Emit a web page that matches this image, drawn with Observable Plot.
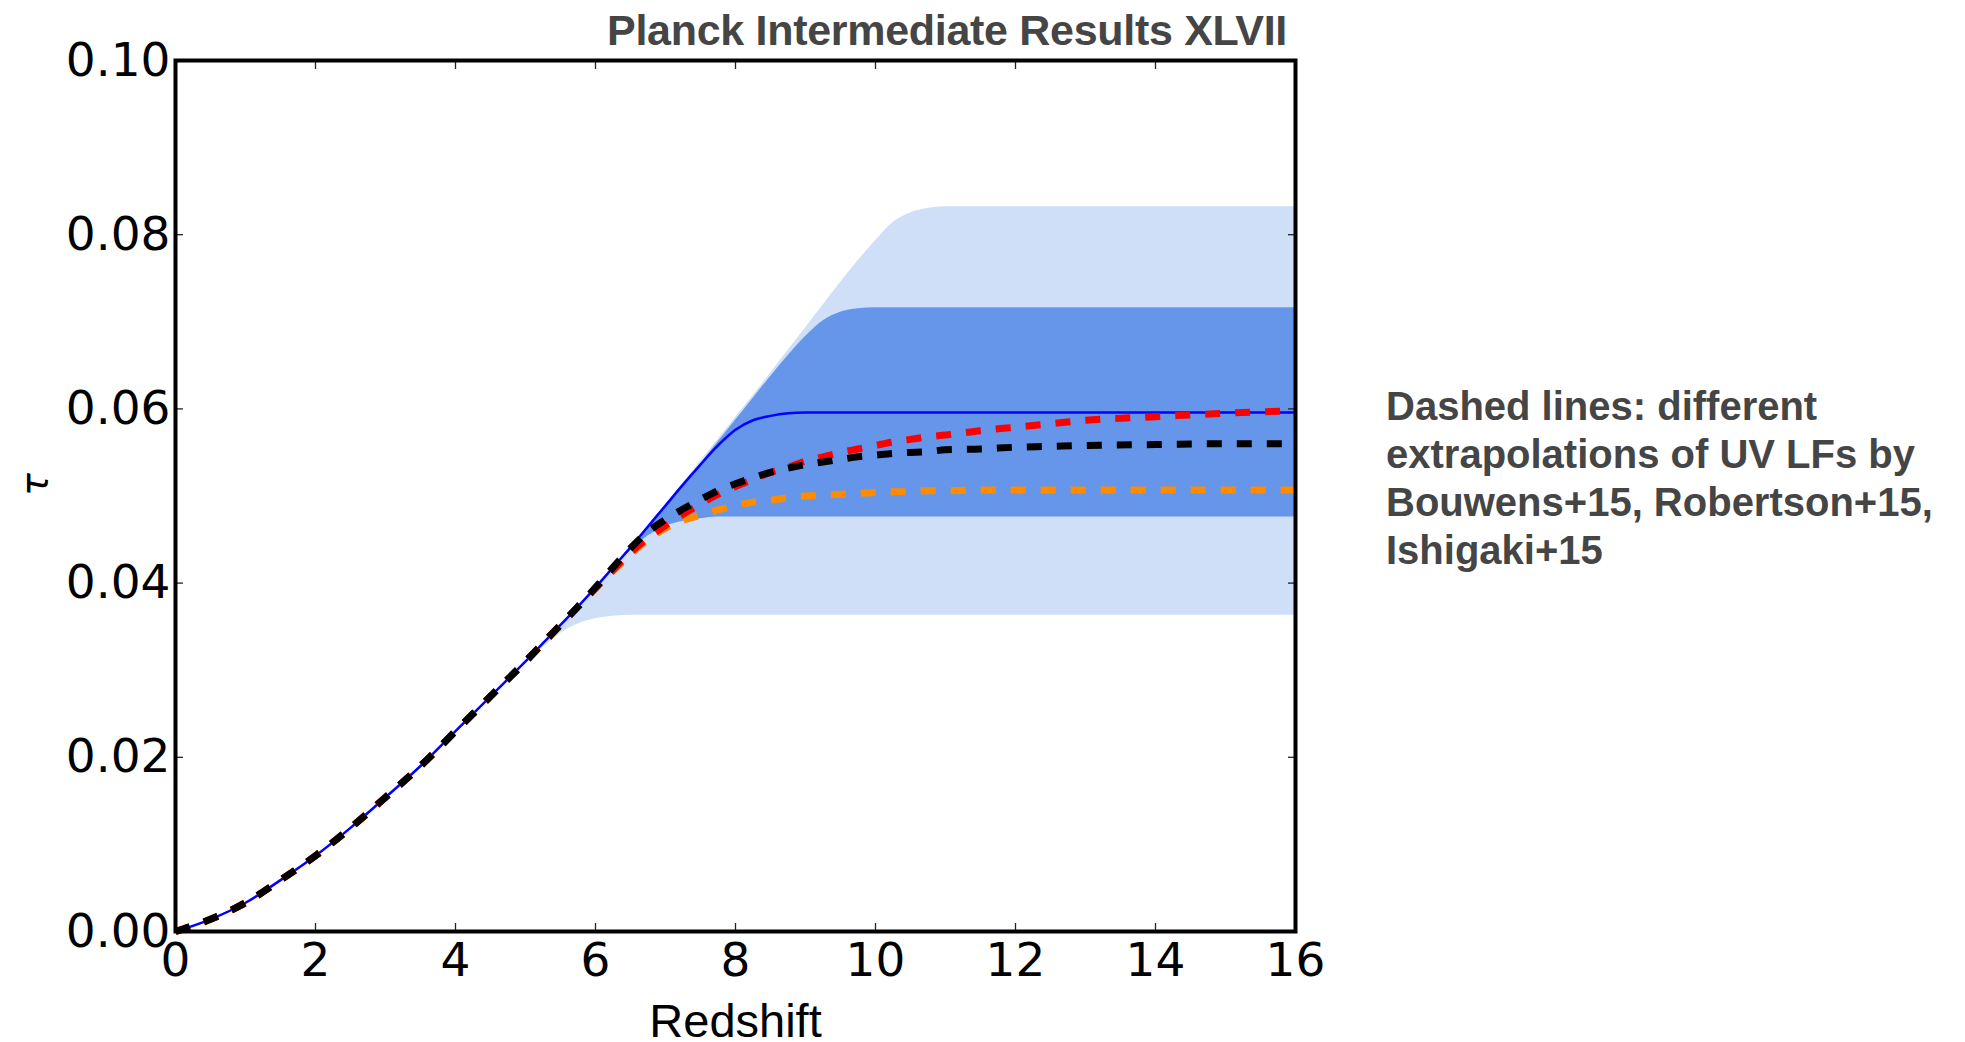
<!DOCTYPE html>
<html>
<head>
<meta charset="utf-8">
<script src="https://cdn.jsdelivr.net/npm/d3@7"></script>
<script src="https://cdn.jsdelivr.net/npm/@observablehq/plot@0.6"></script>
<style>
  html, body { margin: 0; padding: 0; background: #fff; }
  body { width: 1965px; height: 1042px; overflow: hidden; position: relative; }
  #chart { position: absolute; left: 0; top: 0; }
  #title { position: absolute; right: 678px; top: 9px; font: bold 43px/1 "Liberation Sans", Arial, sans-serif; color: #454545; letter-spacing: -0.3px; white-space: nowrap; }
  #note { position: absolute; left: 1386px; top: 382px; font: bold 40px/48px "Liberation Sans", Arial, sans-serif; color: #454545; white-space: nowrap; }
</style>
</head>
<body>
<div id="chart"></div>
<div id="title">Planck Intermediate Results XLVII</div>
<div id="note">Dashed lines: different<br>extrapolations of UV LFs by<br>Bouwens+15, Robertson+15,<br>Ishigaki+15</div>
<script>
// Redshift sample points
const redshift = [0, 0.5, 1, 1.5, 2, 2.5, 3, 3.5, 4, 4.5, 5,
  5.25, 5.5, 5.75, 6, 6.25, 6.5, 6.75, 7, 7.25, 7.5, 7.75, 8, 8.25, 8.5, 8.75,
  9, 9.25, 9.5, 9.75, 10, 10.25, 10.5, 10.75, 11, 11.5, 12, 12.5, 13, 14, 15, 16];

// 95% band (light)
const band95High = [0, 0.0014, 0.0033, 0.0059, 0.0087, 0.0119, 0.0154, 0.0190, 0.0230, 0.0270, 0.0310,
  0.0331, 0.0352, 0.0373, 0.0395, 0.0418, 0.0441, 0.0466, 0.0490, 0.0515, 0.0540, 0.0565, 0.0590, 0.0615, 0.0641, 0.0667,
  0.0693, 0.0719, 0.0745, 0.0770, 0.0793, 0.0814, 0.0825, 0.0830, 0.0832, 0.0832, 0.0832, 0.0832, 0.0832, 0.0832, 0.0832, 0.0832];
const band95Low = [0, 0.0014, 0.0033, 0.0059, 0.0087, 0.0119, 0.0154, 0.0190, 0.0230, 0.0270, 0.0309,
  0.0326, 0.0342, 0.0353, 0.0359, 0.0362, 0.0363, 0.0363, 0.0363, 0.0363, 0.0363, 0.0363, 0.0363, 0.0363, 0.0363, 0.0363,
  0.0363, 0.0363, 0.0363, 0.0363, 0.0363, 0.0363, 0.0363, 0.0363, 0.0363, 0.0363, 0.0363, 0.0363, 0.0363, 0.0363, 0.0363, 0.0363];

// 68% band (dark)
const band68High = [0, 0.0014, 0.0033, 0.0059, 0.0087, 0.0119, 0.0154, 0.0190, 0.0230, 0.0270, 0.0310,
  0.0331, 0.0352, 0.0373, 0.0395, 0.0417, 0.0439, 0.0463, 0.0487, 0.0512, 0.0537, 0.0562, 0.0587, 0.0612, 0.0637, 0.0661,
  0.0683, 0.0701, 0.0711, 0.0715, 0.0716, 0.0716, 0.0716, 0.0716, 0.0716, 0.0716, 0.0716, 0.0716, 0.0716, 0.0716, 0.0716, 0.0716];
const band68Low = [0, 0.0014, 0.0033, 0.0059, 0.0087, 0.0119, 0.0154, 0.0190, 0.0230, 0.0270, 0.0310,
  0.0331, 0.0352, 0.0373, 0.0395, 0.0417, 0.0437, 0.0454, 0.0465, 0.0471, 0.0474, 0.0476, 0.0476, 0.0476, 0.0476, 0.0476,
  0.0476, 0.0476, 0.0476, 0.0476, 0.0476, 0.0476, 0.0476, 0.0476, 0.0476, 0.0476, 0.0476, 0.0476, 0.0476, 0.0476, 0.0476, 0.0476];

// Best fit (solid blue)
const bestFit = [0, 0.0014, 0.0033, 0.0059, 0.0087, 0.0119, 0.0154, 0.0190, 0.0230, 0.0270, 0.0310,
  0.0331, 0.0352, 0.0373, 0.0395, 0.0418, 0.0441, 0.0465, 0.0489, 0.0513, 0.0536, 0.0558, 0.0576, 0.0587, 0.0592, 0.0595,
  0.0596, 0.0596, 0.0596, 0.0596, 0.0596, 0.0596, 0.0596, 0.0596, 0.0596, 0.0596, 0.0596, 0.0596, 0.0596, 0.0596, 0.0596, 0.0596];

// UV LF extrapolations (dashed)
const dashedRed = [0, 0.0014, 0.0033, 0.0059, 0.0087, 0.0119, 0.0154, 0.0190, 0.0230, 0.0270, 0.0310,
  0.0331, 0.0352, 0.0373, 0.0394, 0.0415, 0.0435, 0.0452, 0.0466, 0.0479, 0.0491, 0.0502, 0.0511, 0.0519, 0.0527, 0.0533,
  0.0540, 0.0545, 0.0550, 0.0554, 0.0558, 0.0562, 0.0565, 0.0568, 0.0570, 0.0575, 0.0579, 0.0583, 0.0587, 0.0591, 0.0595, 0.0598];
const dashedBlack = [0, 0.0014, 0.0033, 0.0059, 0.0087, 0.0119, 0.0154, 0.0190, 0.0230, 0.0270, 0.0310,
  0.0331, 0.0352, 0.0373, 0.0395, 0.0418, 0.0440, 0.0459, 0.0473, 0.0485, 0.0496, 0.0506, 0.0514, 0.0521, 0.0527, 0.0532,
  0.0536, 0.0539, 0.0542, 0.0545, 0.0547, 0.0549, 0.0550, 0.0551, 0.0553, 0.0554, 0.0556, 0.0557, 0.0558, 0.0559, 0.0560, 0.0560];
const dashedOrange = [0, 0.0014, 0.0033, 0.0059, 0.0087, 0.0119, 0.0154, 0.0190, 0.0230, 0.0270, 0.0310,
  0.0331, 0.0352, 0.0373, 0.0394, 0.0414, 0.0433, 0.0450, 0.0463, 0.0472, 0.0478, 0.0484, 0.0489, 0.0493, 0.0495, 0.0498,
  0.0500, 0.0501, 0.0502, 0.0503, 0.0504, 0.0505, 0.0505, 0.0506, 0.0506, 0.0507, 0.0507, 0.0507, 0.0507, 0.0507, 0.0507, 0.0507];

// Ticks
const xTicks = [0, 2, 4, 6, 8, 10, 12, 14, 16];
const yTicks = [0, 0.02, 0.04, 0.06, 0.08, 0.10];

const rows = redshift.map((z, i) => ({
  z,
  lo95: band95Low[i], hi95: band95High[i],
  lo68: band68Low[i], hi68: band68High[i],
  best: bestFit[i], red: dashedRed[i], black: dashedBlack[i], orange: dashedOrange[i]
}));

const dash = {strokeWidth: 7, strokeDasharray: "15,15", strokeLinecap: "butt", curve: "monotone-x"};
const tickStyle = {stroke: "#222", strokeWidth: 1.3};

const chart = Plot.plot({
  width: 1965,
  height: 1042,
  marginLeft: 175,
  marginRight: 670,
  marginTop: 60,
  marginBottom: 111,
  style: {background: "transparent", overflow: "visible"},
  x: {domain: [0, 16], axis: null},
  y: {domain: [0, 0.1], axis: null},
  marks: [
    Plot.areaY(rows, {x: "z", y1: "lo95", y2: "hi95", fill: "#cfdff8", curve: "monotone-x"}),
    Plot.areaY(rows, {x: "z", y1: "lo68", y2: "hi68", fill: "#6596e9", curve: "monotone-x"}),
    Plot.line(rows, {x: "z", y: "best", stroke: "#0000ff", strokeWidth: 2.5, curve: "monotone-x"}),
    Plot.line(rows, {x: "z", y: "orange", stroke: "#ff8c00", ...dash}),
    Plot.line(rows, {x: "z", y: "red", stroke: "#ff0000", ...dash}),
    Plot.line(rows, {x: "z", y: "black", stroke: "#000000", ...dash}),
    // tick labels
    Plot.axisX(xTicks, {anchor: "bottom", tickSize: 0, tickPadding: 11, fontSize: 47, fontFamily: "DejaVu Sans", label: null, fill: "#000"}),
    Plot.axisY(yTicks, {anchor: "left", tickSize: 0, tickPadding: 5, fontSize: 47, fontFamily: "DejaVu Sans", label: null, tickFormat: d3.format(".2f"), fill: "#000"}),
    // inward ticks on all sides
    Plot.axisX(xTicks, {anchor: "bottom", tickSize: -8, tickFormat: () => "", label: null, ...tickStyle}),
    Plot.axisX(xTicks, {anchor: "top", tickSize: -8, tickFormat: () => "", label: null, ...tickStyle}),
    Plot.axisY(yTicks, {anchor: "left", tickSize: -8, tickFormat: () => "", label: null, ...tickStyle}),
    Plot.axisY(yTicks, {anchor: "right", tickSize: -8, tickFormat: () => "", label: null, ...tickStyle}),
    Plot.frame({stroke: "#000", strokeWidth: 4}),
    // axis titles
    Plot.text(["Redshift"], {frameAnchor: "bottom", dy: 72, lineAnchor: "top", fontSize: 47, fontFamily: "Liberation Sans", fill: "#000"}),
    Plot.text(["τ"], {frameAnchor: "left", dx: -141, rotate: -90, fontSize: 38, fontStyle: "italic", fontFamily: "DejaVu Sans", fill: "#000"})
  ]
});
document.getElementById("chart").appendChild(chart);
</script>
</body>
</html>
